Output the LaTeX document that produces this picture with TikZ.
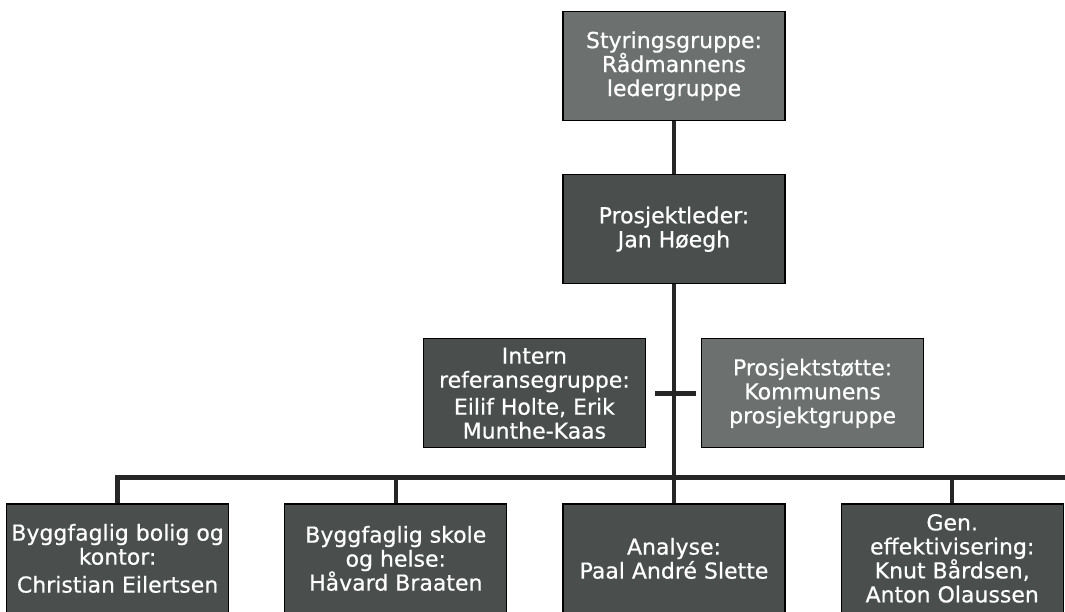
\documentclass[tikz,border=0pt]{standalone}
\usepackage{fontspec}
\usepackage{tikz}
\usetikzlibrary{positioning, calc}

\newfontfamily\orgfont[FakeBold=0.6]{DejaVu Sans}
\definecolor{darkfill}{RGB}{74,78,76}
\definecolor{lightfill}{RGB}{108,113,111}

\begin{document}
\begin{tikzpicture}[
	node distance = 53pt and 55pt,
	box/.style = {rectangle, draw=black, line width=1.2pt, fill=darkfill, text=white, text centered, minimum width=222pt, minimum height=109pt, align=center, inner sep=1pt, font=\orgfont\fontsize{22}{24}\selectfont},
	lightbox/.style = {box, fill=lightfill},
	line/.style = {draw=black!85, line width=4.5pt, line join=miter}
	]
	\useasboundingbox (0,0) rectangle (1065pt,-612pt);
	
	% Top of the chart
	\node [lightbox] (styring) at (674pt,-66pt) {Styringsgruppe:\\ Rådmannens\\ ledergruppe};
	\node [box, below=of styring] (leder) {Prosjektleder:\\ Jan Høegh};
	\coordinate [below=109pt of leder] (hub);
	
	% Side groups
	\node [box, left=28pt of hub] (intern) {Intern\\ referansegruppe:\\[3pt] Eilif Holte, Erik\\ Munthe-Kaas};
	\node [lightbox, right=27pt of hub] (stotte) {Prosjektstøtte:\\ Kommunens\\ prosjektgruppe};
	
	% Sub projects
	\node [box, below=110pt of hub] (analyse) {Analyse:\\ Paal André Slette};
	\node [box, left=of analyse] (skole) {Byggfaglig skole\\ og helse:\\ Håvard Braaten};
	\node [box, left=of skole] (bolig) {Byggfaglig bolig og\\ kontor:\\[4pt] Christian Eilertsen};
	\node [box, right=of analyse] (effekt) {Gen.\\ effektivisering:\\ Knut Bårdsen,\\ Anton Olaussen};
	\coordinate (busend) at ($(bolig.north)+(0,26pt)$);
	\coordinate (busend) at (1065pt,0 |- busend);
	
	% Lines
	\path [line] (styring) -- (leder);
	\path [line] (leder) -- (analyse);
	\path [line] ([xshift=9pt]intern.east) -- ([xshift=-5pt]stotte.west);
	\path [line] (bolig.north) |- (busend);
	\path [line] (skole.north) -- (skole.north |- busend);
	\path [line] (effekt.north) -- (effekt.north |- busend);
\end{tikzpicture}
\end{document}
